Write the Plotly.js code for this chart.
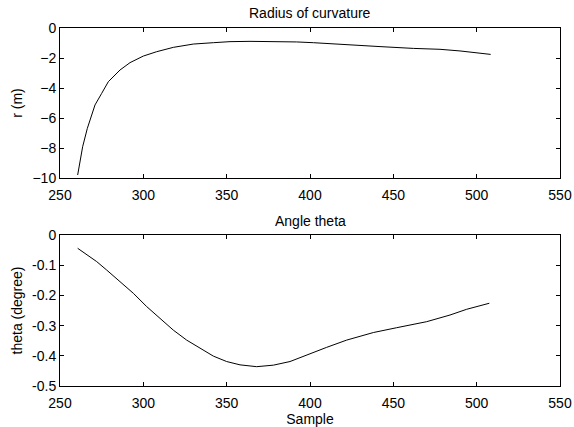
<!DOCTYPE html>
<html><head><meta charset="utf-8">
<script src="https://cdn.plot.ly/plotly-3.0.1.min.js"></script>
<style>html,body{margin:0;padding:0;background:#fff}#c{width:574px;height:427px}</style>
</head><body><div id="c"></div>
<script>
const radiusX = [260.6,263.6,266.4,271,275,279,286,292,300,308,318,330,342,352,364,380,392,402,422,442,462,478,490,500,508.4];
const radiusY = [-9.8,-7.91,-6.69,-5.13,-4.36,-3.58,-2.8,-2.31,-1.87,-1.58,-1.29,-1.07,-0.98,-0.91,-0.89,-0.89,-0.93,-0.98,-1.13,-1.24,-1.36,-1.42,-1.53,-1.63,-1.76];
const thetaX = [260.6,272,278,286,294,302,310,318,326,334,342,350,358,368,378,388,398,410,422,438,452,470,484,494,507.6];
const thetaY = [-0.044,-0.088,-0.116,-0.155,-0.193,-0.237,-0.276,-0.315,-0.348,-0.375,-0.401,-0.419,-0.430,-0.436,-0.431,-0.419,-0.397,-0.372,-0.348,-0.323,-0.307,-0.287,-0.265,-0.246,-0.226];
const xTicks = [250,300,350,400,450,500,550];
const rTicks = [-10,-8,-6,-4,-2,0];
const thTicks = [-0.5,-0.4,-0.3,-0.2,-0.1,0];
const thTickText = ['-0.5','-0.4','-0.3','-0.2','-0.1','0'];

const font = {family:'Liberation Sans, Arial, sans-serif', size:14, color:'#000'};
const axBase = {showline:true, linecolor:'#000', linewidth:1, mirror:'ticks', ticks:'inside', ticklen:4, tickcolor:'#000', showgrid:false, zeroline:false, tickfont:font};
const xBase = Object.assign({}, axBase, {ticklabelstandoff:4});

const data = [
  {x:radiusX, y:radiusY, type:'scatter', mode:'lines', line:{color:'#000', width:1}, xaxis:'x', yaxis:'y'},
  {x:thetaX, y:thetaY, type:'scatter', mode:'lines', line:{color:'#000', width:1}, xaxis:'x2', yaxis:'y2'}
];
const layout = {
  width:574, height:427, showlegend:false,
  paper_bgcolor:'#fff', plot_bgcolor:'#fff', font:font,
  margin:{l:60, r:14, t:28, b:41},
  xaxis:Object.assign({}, xBase, {domain:[0,1], range:[250,550], tickvals:xTicks, anchor:'y'}),
  yaxis:Object.assign({}, axBase, {domain:[0.581,1], range:[-10,0], tickvals:rTicks, anchor:'x', title:{text:'r (m)', font:font, standoff:6}}),
  xaxis2:Object.assign({}, xBase, {domain:[0,1], range:[250,550], tickvals:xTicks, anchor:'y2', title:{text:'Sample', font:font, standoff:2}}),
  yaxis2:Object.assign({}, axBase, {domain:[0,0.4218], range:[-0.5,0], tickvals:thTicks, ticktext:thTickText, anchor:'x2', title:{text:'theta (degree)', font:font, standoff:6}}),
  annotations:[
    {text:'Radius of curvature', xref:'paper', yref:'paper', x:0.5, y:1, yshift:15, showarrow:false, font:font, xanchor:'center', yanchor:'middle'},
    {text:'Angle theta', xref:'paper', yref:'paper', x:0.5, y:0.4218, yshift:14, showarrow:false, font:font, xanchor:'center', yanchor:'middle'}
  ]
};
Plotly.newPlot('c', data, layout, {displayModeBar:false, staticPlot:true});
</script></body></html>
